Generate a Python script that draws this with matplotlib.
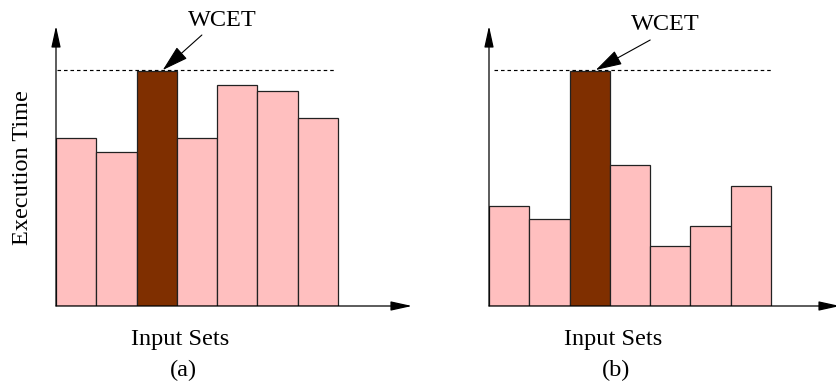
import matplotlib
matplotlib.use("Agg")
import matplotlib.pyplot as plt

# execution time per input set (arbitrary units)
times_a = [168, 154, 235, 168, 221, 215, 188]
times_b = [100, 87, 235, 141, 60, 80, 120]
wcet = 236
wcet_index = 2

pink = "#ffbfbf"
brown = "#7f2f00"
plt.rcParams["font.family"] = ["Liberation Serif", "DejaVu Serif"]

W, H = 837, 383
BAR = 40.3  # px per bar


def panel(fig, left_px, right_px, times, label, wcet_pos, arrow_from, dash_x):
    width_px = right_px - left_px
    ax = fig.add_axes([left_px / W, 77 / H, width_px / W, 280 / H])
    ax.set_xlim(0, width_px / BAR)
    ax.set_ylim(0, 280)
    ax.axis("off")

    colors = [brown if i == wcet_index else pink for i in range(len(times))]
    ax.bar(range(len(times)), times, width=1, align="edge", color=colors,
           edgecolor="#222222", linewidth=0.9, zorder=2)

    ax.plot(dash_x, [wcet, wcet], color="black", linestyle=(0, (3, 2.5)),
            linewidth=0.85, zorder=3)

    # axes with arrowheads
    head = dict(arrowstyle="-|>,head_length=1.0,head_width=0.22",
                mutation_scale=13, color="black", lw=0.9, shrinkA=0, shrinkB=0)
    ax.annotate("", xy=(0, 1), xytext=(0, 0), xycoords="axes fraction",
                arrowprops=head, annotation_clip=False)
    ax.annotate("", xy=(1, 0), xytext=(0, 0), xycoords="axes fraction",
                arrowprops=head, annotation_clip=False)

    ax.text(wcet_pos[0], wcet_pos[1], "WCET", ha="center", va="center",
            fontsize=17.5, clip_on=False)
    ax.annotate("", xy=(wcet_index + 0.65, wcet), xytext=arrow_from,
                arrowprops=dict(arrowstyle="-|>,head_length=1.1,head_width=0.32",
                                mutation_scale=15, color="black", lw=0.8,
                                shrinkA=0, shrinkB=0),
                annotation_clip=False)

    ax.text(3.08, -34, "Input Sets", ha="center", va="center", fontsize=17.5,
            clip_on=False)
    ax.text(3.15, -64, label, ha="center", va="center", fontsize=17.5,
            clip_on=False)
    return ax


fig = plt.figure(figsize=(W / 100, H / 100), dpi=100)

ax_a = panel(fig, 56, 412, times_a, "(a)", (4.12, 285), (3.62, 271), [0.02, 6.9])
ax_b = panel(fig, 489, 840, times_b, "(b)", (4.37, 281), (4.0, 266), [0.12, 7.0])

ax_a.text(-0.82, 138, "Execution Time", rotation=90, ha="center", va="center",
          fontsize=17.5, clip_on=False)

fig.savefig("out.png", dpi=100)
